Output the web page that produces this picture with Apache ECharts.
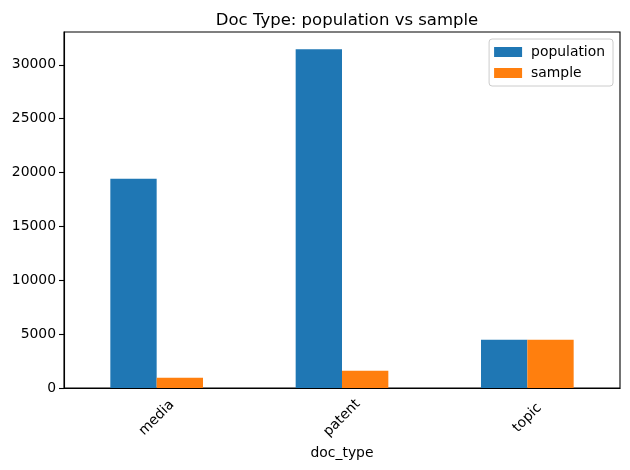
<!DOCTYPE html>
<html>
<head>
<meta charset="utf-8">
<script src="https://cdn.jsdelivr.net/npm/echarts@6/dist/echarts.min.js"></script>
<style>html,body{margin:0;padding:0;background:#fff;}#c{width:630px;height:470px;}</style>
</head>
<body>
<div id="c"></div>
<script>
var categories = ['media', 'patent', 'topic'];
var population = [19420, 31460, 4480];
var sample = [960, 1600, 4480];
var yTicks = [0, 5000, 10000, 15000, 20000, 25000, 30000];

var font = 'DejaVu Sans';
var chart = echarts.init(document.getElementById('c'), null, {renderer: 'canvas'});
chart.setOption({
  animation: false,
  backgroundColor: '#ffffff',
  textStyle: {fontFamily: font},
  title: {
    text: 'Doc Type: population vs sample',
    left: 342, top: 7, textAlign: 'center',
    textStyle: {fontFamily: font, fontSize: 16.5, fontWeight: 'normal', color: '#000'}
  },
  legend: {
    orient: 'vertical',
    right: 17, top: 39,
    padding: [6, 8, 6, 5],
    itemWidth: 28, itemHeight: 10, itemGap: 7,
    borderColor: '#cccccc', borderWidth: 1, borderRadius: 3,
    icon: 'rect',
    textStyle: {fontFamily: font, fontSize: 13.9, color: '#000', padding: [0, 0, 0, 4]},
    data: ['population', 'sample']
  },
  grid: {
    left: 64, right: 10, top: 32, bottom: 82,
    show: true, borderColor: '#000', borderWidth: 1.1, containLabel: false
  },
  xAxis: {
    type: 'category',
    data: categories,
    name: 'doc_type',
    nameLocation: 'middle',
    nameGap: 56,
    nameTextStyle: {fontFamily: font, fontSize: 13.9, color: '#000'},
    axisLine: {lineStyle: {color: '#000', width: 1.1}},
    axisTick: {alignWithLabel: true, length: 5, inside: false, lineStyle: {color: '#000', width: 1.1}},
    axisLabel: {
      rotate: 45, align: 'center', verticalAlign: 'middle', margin: 30,
      fontFamily: font, fontSize: 13.9, color: '#000'
    },
    splitLine: {show: false}
  },
  yAxis: {
    type: 'value',
    min: 0, max: 33050,
    axisLine: {show: true, lineStyle: {color: '#000', width: 1.1}},
    axisTick: {show: true, length: 5, lineStyle: {color: '#000', width: 1.1}, customValues: yTicks},
    axisLabel: {fontFamily: font, fontSize: 13.9, color: '#000', margin: 8, customValues: yTicks,
      formatter: function (v) { return String(v); }},
    splitLine: {show: false}
  },
  series: [
    {name: 'population', type: 'bar', data: population, barWidth: '25%', barGap: '0%',
     itemStyle: {color: '#1f77b4', borderWidth: 0}},
    {name: 'sample', type: 'bar', data: sample, barWidth: '25%', barGap: '0%',
     itemStyle: {color: '#ff7f0e', borderWidth: 0}}
  ]
});
</script>
</body>
</html>
